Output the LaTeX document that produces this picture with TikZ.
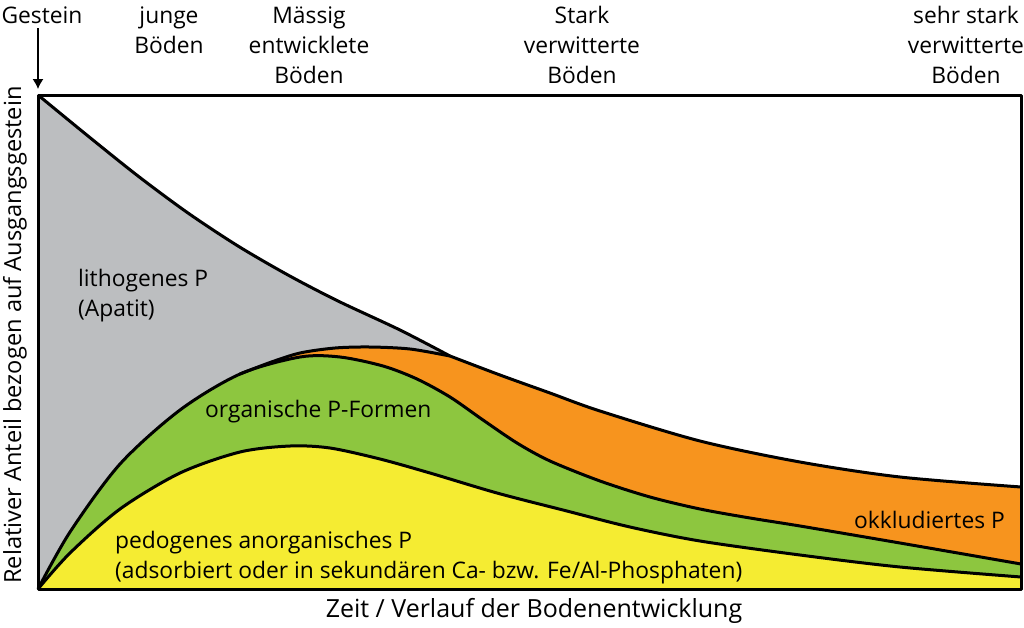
\documentclass[tikz,border=0pt]{standalone}
\usepackage{fontspec}
\setmainfont{Open Sans}
\usepackage{tikz}
\usetikzlibrary{arrows.meta}
\definecolor{lithogray}{HTML}{BCBEC0}
\definecolor{okklorange}{HTML}{F7941E}
\definecolor{orggreen}{HTML}{8DC63F}
\definecolor{pedoyellow}{HTML}{F5EC32}
\tikzset{
  curve/.style={line width=3pt,line join=round},
  lbl/.style={font=\fontsize{22.8}{30}\selectfont,inner sep=0pt},
  hdr/.style={lbl,align=center}
}
% the curves, one list of points each
\newcommand{\TopA}{(38,95) (88,136) (138,176) (188,213) (238,246) (288,275) (338,301) (400,330) (450,356)}
\newcommand{\TopB}{(450,356) (500,375) (550,393) (600,411) (700,441) (800,462) (900,477) (1021,487)}
\newcommand{\OrgTop}{(38,589) (70,532) (120,464) (180,410) (240,374) (300,357) (340,357) (383,366) (417,379) (450,397) (483,420) (517,443) (550,461) (600,481) (650,497) (700,509) (750,518) (800,526) (900,543) (1021,564)}
\newcommand{\OkklTop}{(240,374) (270,362.5) (300,353) (335,348) (370,347) (410,349) (450,356)}
\newcommand{\PedoTop}{(38,589) (70,553) (120,509) (180,473) (240,452) (290,446) (330,448) (380,459) (430,473) (497,493) (563,510) (630,527) (700,541) (800,555) (900,567) (1021,577)}

\begin{document}
\begin{tikzpicture}[>={Latex[length=10pt,width=11pt]},x=1pt,y=-1pt]
        \useasboundingbox (0,0) rectangle (1024,627);
        % areas
        \fill[lithogray] plot[smooth] coordinates {\TopA} -- plot[smooth] coordinates {\TopB} -- (1021,589) -- (38,589) -- cycle;
        \fill[okklorange] (38,589) -- plot[smooth] coordinates {\OkklTop} -- plot[smooth] coordinates {\TopB} -- (1021,589) -- cycle;
        \fill[orggreen] plot[smooth] coordinates {\OrgTop} -- (1021,589) -- cycle;
        \fill[pedoyellow] plot[smooth] coordinates {\PedoTop} -- (1021,589) -- cycle;
        % boundaries
        \draw[curve] plot[smooth] coordinates {\TopA};
        \draw[curve] plot[smooth] coordinates {\TopB};
        \draw[curve] plot[smooth] coordinates {\OkklTop};
        \draw[curve] plot[smooth] coordinates {\OrgTop};
        \draw[curve] plot[smooth] coordinates {\PedoTop};
        \draw[curve] (38,95) rectangle (1021,589);
        % stages
        \node[lbl] (gestein) at (42,15) {Gestein};
        \coordinate (gsoil) at (38,89);
        \draw[->,line width=1.3pt] (38,28) -- (gsoil);
        \node[hdr] (jung) at (169,30) {junge\\Böden};
        \node[hdr] (maessig) at (309,45) {Mässig\\entwicklete\\Böden};
        \node[hdr] (stark) at (582,45) {Stark\\verwitterte\\Böden};
        \node[hdr] (sehrstark) at (966,45) {sehr stark\\verwitterte\\Böden};
        % axes
        \node[lbl,rotate=90,font=\fontsize{23.6}{30}\selectfont] (yachse) at (15,335) {Relativer Anteil bezogen auf Ausgangsgestein};
        \node[lbl,font=\fontsize{25}{30}\selectfont] (xachse) at (534,611) {Zeit / Verlauf der Bodenentwicklung};
        % fractions
        \node[lbl,anchor=west,align=left] (litho) at (78,296) {lithogenes P\\(Apatit)};
        \node[lbl,anchor=west] (org) at (205,412) {organische P-Formen};
        \node[lbl,anchor=east] (okkl) at (1005,520) {okkludiertes P};
        \node[lbl,anchor=west,align=left] (pedo) at (115,558) {pedogenes anorganisches P\\(adsorbiert oder in sekundären Ca- bzw. Fe/Al-Phosphaten)};
\end{tikzpicture}
\end{document}
